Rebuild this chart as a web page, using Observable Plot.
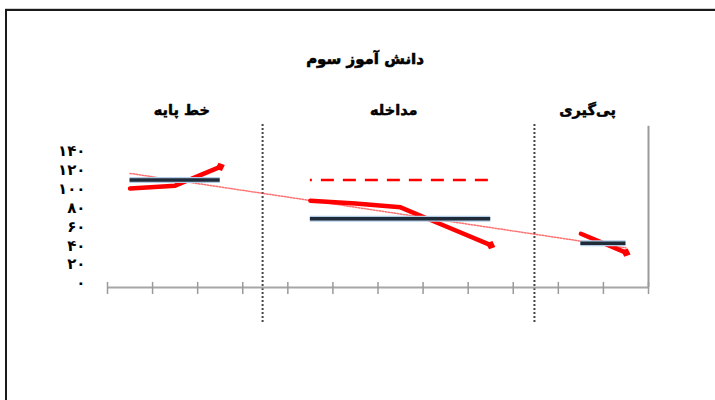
<!DOCTYPE html>
<html>
<head>
<meta charset="utf-8">
<script src="https://cdn.jsdelivr.net/npm/d3@7"></script>
<script src="https://cdn.jsdelivr.net/npm/@observablehq/plot@0.6"></script>
<style>
  html, body { margin: 0; padding: 0; background: #fff; }
  body { width: 715px; height: 400px; position: relative; overflow: hidden; font-family: "DejaVu Sans", sans-serif; }
  #frame { position: absolute; left: 5px; top: 9px; width: 720px; height: 400px;
           border-top: 2px solid #1a1a1a; border-left: 2px solid #1a1a1a; box-shadow: 0 -1px 0 #d0d0d0; }
  #title { position: absolute; left: 0; width: 730px; top: 50px; text-align: center;
           font: bold 15px "DejaVu Sans", sans-serif; direction: rtl; -webkit-text-stroke: 0.6px #000; }
  #chart { position: absolute; left: 0; top: 0; }
</style>
</head>
<body>
<div id="frame"></div>
<div id="title">دانش آموز سوم</div>
<div id="chart"></div>
<script>
// ---- data ----
const phaseNames = ["خط پایه", "مداخله", "پی‌گیری"];
const phaseLabelX = [2.15, 6.85, 11.15];
const baselineX = [1, 2, 3];
const baselineY = [105, 108, 128];
const interventionX = [5, 6, 7, 8, 9];
const interventionY = [92, 89, 85, 65, 45];
const followupX = [11, 12];
const followupY = [57, 37];
const meanStart = [1, 5, 11];
const meanEnd = [3, 9, 12];
const meanValue = [114, 73, 47];
const baselineExtStart = 5, baselineExtEnd = 9, baselineExtValue = 114;
const trendX = [1, 12];
const trendY = [121, 42];
const dividerX = [3.94, 9.97];
const yTicks = [0, 20, 40, 60, 80, 100, 120, 140];
const xTicks = [0.5, 1.5, 2.5, 3.5, 4.5, 5.5, 6.5, 7.5, 8.5, 9.5, 10.5, 11.5, 12.5];

// ---- tables ----
const toRows = (xs, ys) => xs.map((x, i) => ({x, y: ys[i]}));
const series = [toRows(baselineX, baselineY), toRows(interventionX, interventionY), toRows(followupX, followupY)];
const means = meanValue.map((v, i) => ({x1: meanStart[i], x2: meanEnd[i], y: v}));
const trend = toRows(trendX, trendY);
const phases = phaseNames.map((t, i) => ({t, x: phaseLabelX[i]}));
const fa = d => String(d).replace(/\d/g, c => "۰۱۲۳۴۵۶۷۸۹"[c]);

const RED = "#ff0001";
const marks = [
  // dividers
  Plot.ruleX(dividerX, {y1: -37, y2: 175, stroke: "#444", strokeWidth: 2, strokeDasharray: "2,2"}),
  // right solid line
  Plot.ruleX([12.5], {y1: 0, y2: 171, stroke: "#9a9a9a", strokeWidth: 2}),
  // x axis line and cross ticks
  Plot.ruleY([0], {x1: 0.5, x2: 12.5, stroke: "#a6a6a6", strokeWidth: 2}),
  Plot.ruleX(xTicks, {y1: -7.4, y2: 5.4, stroke: "#9a9a9a", strokeWidth: 1.5}),
  // y axis labels
  Plot.axisY(yTicks, {tickSize: 0, tickPadding: 22, tickFormat: fa, fontSize: 15, fontWeight: "bold", dy: -4, label: null,
                      stroke: "#000", strokeWidth: 0.6}),
  // trend line
  Plot.line(trend, {x: "x", y: "y", stroke: "#ff4040", strokeWidth: 1.5, strokeDasharray: "1.5,1.5", strokeOpacity: 0.75}),
  // baseline extension dashed
  Plot.ruleY([baselineExtValue], {x1: baselineExtStart, x2: baselineExtEnd, stroke: "#ff0000", strokeWidth: 2.5, strokeDasharray: "13,9", strokeDashoffset: 11}),
  // data lines
  ...series.map(s => Plot.line(s, {x: "x", y: "y", stroke: RED, strokeWidth: 4.5, strokeLinejoin: "round"})),
  // mean lines
  Plot.ruleY(means, {x1: "x1", x2: "x2", y: "y", stroke: "#b4cde6", strokeWidth: 6}),
  Plot.ruleY(means, {x1: "x1", x2: "x2", y: "y", stroke: "#1f2b38", strokeWidth: 3.5}),
  // phase labels
  Plot.text(phases, {x: "x", text: "t", frameAnchor: "top", dy: -51, fontSize: 14.5, fontWeight: "bold", stroke: "#000", strokeWidth: 0.5, fill: "#000"})
];

const svg = Plot.plot({
  width: 715,
  height: 400,
  marginLeft: 107,
  marginRight: 67,
  marginTop: 155,
  marginBottom: 113,
  x: {domain: [0.5, 12.5], axis: null},
  y: {domain: [0, 140], axis: null},
  style: {fontFamily: "'DejaVu Sans', sans-serif", background: "transparent", color: "#000"},
  marks
});

// diamond arrowheads at line ends
const s = d3.select(svg);
s.append("defs").append("marker")
  .attr("id", "diam")
  .attr("viewBox", "-6 -6 12 12")
  .attr("markerWidth", 12).attr("markerHeight", 12)
  .attr("markerUnits", "userSpaceOnUse")
  .attr("orient", "auto")
  .append("path")
  .attr("d", "M-5,0L0,-4.5L5,0L0,4.5Z")
  .attr("fill", "#ff0000");
s.selectAll(`g[stroke="${RED}"] path`).attr("marker-end", "url(#diam)");

document.getElementById("chart").appendChild(svg);
</script>
</body>
</html>
